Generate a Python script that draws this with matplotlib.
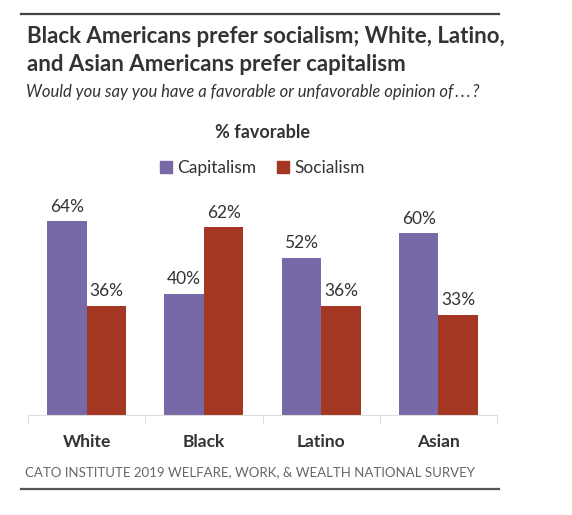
import matplotlib
matplotlib.use("Agg")
import matplotlib.pyplot as plt
import numpy as np
from matplotlib.lines import Line2D
from matplotlib.patches import Patch

plt.rcParams["font.family"] = ["Lato", "DejaVu Sans"]

groups = ["White", "Black", "Latino", "Asian"]
capitalism = [64, 40, 52, 60]
socialism = [36, 62, 36, 33]
series_names = ["Capitalism", "Socialism"]

PURPLE, RED, DARK, GREY = "#7768A7", "#A33722", "#333333", "#666666"

W, H = 572, 515
fig = plt.figure(figsize=(W / 100, H / 100), dpi=100)

# axes in pixel terms: x 28..497, baseline at y=415
ax = fig.add_axes([28 / W, 1 - 415 / H, (497 - 28) / W, 212 / H])
x = np.arange(len(groups))
bw = 0.337
b1 = ax.bar(x - bw / 2, capitalism, bw, color=PURPLE)
b2 = ax.bar(x + bw / 2, socialism, bw, color=RED)
for bars, vals in ((b1, capitalism), (b2, socialism)):
    for rect, v in zip(bars, vals):
        ax.text(rect.get_x() + rect.get_width() / 2, v + 2.2, f"{v}%",
                ha="center", va="bottom", fontsize=12.5, color=DARK, clip_on=False)

ax.set_xlim(-0.5, len(groups) - 0.5)
ax.set_ylim(0, 70)
ax.set_yticks([])
for s in ("top", "right", "left"):
    ax.spines[s].set_visible(False)
ax.spines["bottom"].set_color("#DDDDDD")
ax.set_xticks(x)
ax.set_xticklabels(groups, fontsize=12.5, fontweight="bold", color=DARK)
ax.tick_params(axis="x", length=0, pad=14)
ax.set_xticks(np.arange(-0.5, len(groups)), minor=True)
ax.tick_params(axis="x", which="minor", length=6, color="#DDDDDD", width=0.8)

# header / footer
fig.add_artist(Line2D([21 / W, 499 / W], [1 - 14 / H] * 2, color="#444444", lw=1.6))
fig.add_artist(Line2D([21 / W, 499 / W], [1 - 489 / H] * 2, color="#555555", lw=1.6))
fig.text(27 / W, 1 - 36 / H, "Black Americans prefer socialism; White, Latino,",
         fontsize=16, fontweight="bold", color=DARK, va="center")
fig.text(27 / W, 1 - 65 / H, "and Asian Americans prefer capitalism",
         fontsize=16, fontweight="bold", color=DARK, va="center")
fig.text(26 / W, 1 - 92 / H,
         "Would you say you have a favorable or unfavorable opinion of\u2009.\u2009.\u2009.\u2009?",
         fontsize=12, style="italic", color=DARK, va="center")
fig.text(262.5 / W, 1 - 132 / H, "% favorable", fontsize=13, fontweight="bold",
         color=DARK, ha="center", va="center")
handles = [Patch(color=PURPLE), Patch(color=RED)]
fig.legend(handles, series_names, loc="center", bbox_to_anchor=(262.5 / W, 1 - 168 / H),
           ncol=2, frameon=False, fontsize=12.5, handlelength=0.7, handleheight=0.7,
           handletextpad=0.3, columnspacing=1.2, labelcolor=DARK)
fig.text(25 / W, 1 - 472 / H, "CATO INSTITUTE 2019 WELFARE, WORK, & WEALTH NATIONAL SURVEY",
         fontsize=9.5, color=GREY, va="center")

fig.savefig("out.png", dpi=100)
